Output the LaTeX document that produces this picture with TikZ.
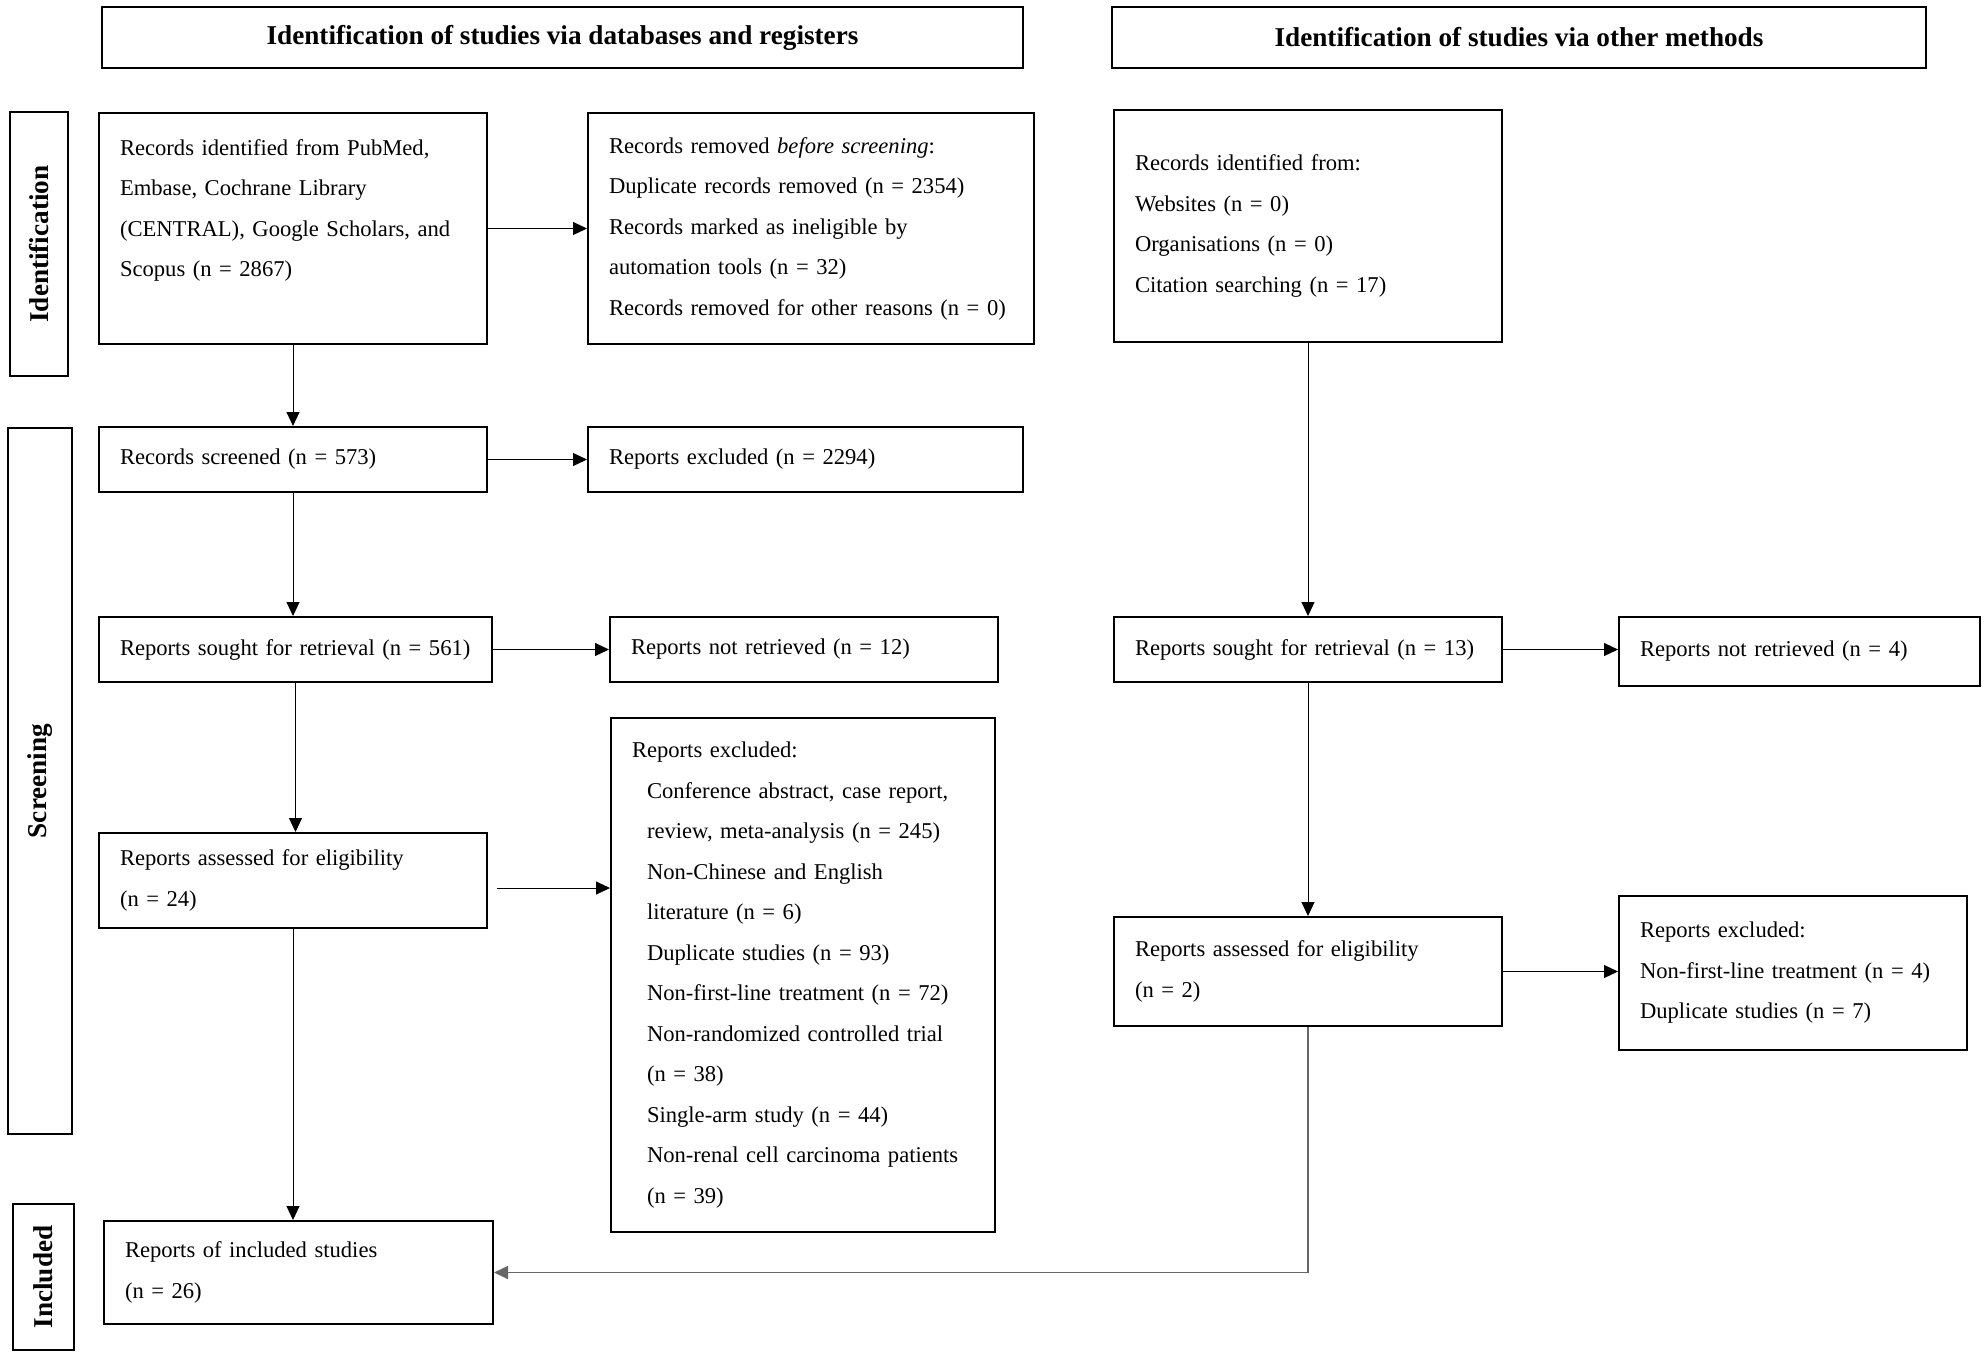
\documentclass[tikz,border=0pt]{standalone}
\usepackage{fontspec}
\setmainfont{Liberation Serif}
\usetikzlibrary{arrows.meta}
\newcommand{\bodyfs}{\fontsize{11.3pt}{20.25pt}\selectfont}
\newcommand{\headfs}{\fontsize{13.6pt}{16pt}\selectfont\bfseries}
\tikzset{
	box/.style={draw, line width=1pt, inner xsep=10.5pt, inner ysep=0pt, align=left, font=\bodyfs},
	headbox/.style={draw, line width=1pt, minimum height=30.5pt, font=\headfs},
	sidebox/.style={draw, line width=1.3pt, rotate=90, font=\headfs},
	arr/.style={line width=0.5pt, -{Triangle[length=7pt,width=6.5pt]}}
}
\begin{document}
\begin{tikzpicture}[x=0.5pt,y=-0.5pt]
	\useasboundingbox (0,0) rectangle (1987,1357);
	
	%headers
	\node[headbox, minimum width=460.5pt] (hdA) at (562.5,37.5) {Identification of studies via databases and registers};
	\node[headbox, minimum width=407pt] (hdB) at (1519,37.5) {Identification of studies via other methods};
	
	%side labels
	\node[sidebox, minimum width=132pt, minimum height=29pt] (sideId) at (39,244) {Identification};
	\node[sidebox, minimum width=353pt, minimum height=32pt] (sideScr) at (40,781) {Screening};
	\node[sidebox, minimum width=73pt, minimum height=30.5pt] (sideInc) at (43.5,1277) {Included};
	
	%databases column
	\node[box, text width=173pt, minimum height=115.5pt] (ident) at (293,228.5)
		{Records identified from PubMed,\\ Embase, Cochrane Library\\ (CENTRAL), Google Scholars, and\\ Scopus (n = 2867)\\ ~};
	\node[box, text width=202pt, minimum height=115.5pt] (removed) at (811,228.5)
		{Records removed \textit{before screening}:\\ Duplicate records removed (n = 2354)\\ Records marked as ineligible by\\ automation tools (n = 32)\\ Records removed for other reasons (n = 0)};
	\node[box, text width=173pt, minimum height=32.5pt] (screened) at (293,459.5) {Records screened (n = 573)};
	\node[box, text width=196.5pt, minimum height=32.5pt] (exclA) at (805.5,459.5) {Reports excluded (n = 2294)};
	\node[box, text width=175.5pt, minimum height=32.5pt] (sought) at (295.5,649.5) {Reports sought for retrieval (n = 561)};
	\node[box, text width=173pt, minimum height=32.5pt] (notretr) at (804,649.5) {Reports not retrieved (n = 12)};
	\node[box, text width=173pt, minimum height=47.5pt] (assessed) at (293,880.5)
		{Reports assessed for eligibility\\ (n = 24)};
	\node[box, text width=171pt, minimum height=257pt] (exclB) at (803,975)
		{Reports excluded:\\
		\hspace*{7.5pt}Conference abstract, case report,\\
		\hspace*{7.5pt}review, meta-analysis (n = 245)\\
		\hspace*{7.5pt}Non-Chinese and English\\
		\hspace*{7.5pt}literature (n = 6)\\
		\hspace*{7.5pt}Duplicate studies (n = 93)\\
		\hspace*{7.5pt}Non-first-line treatment (n = 72)\\
		\hspace*{7.5pt}Non-randomized controlled trial\\
		\hspace*{7.5pt}(n = 38)\\
		\hspace*{7.5pt}Single-arm study (n = 44)\\
		\hspace*{7.5pt}Non-renal cell carcinoma patients\\
		\hspace*{7.5pt}(n = 39)};
	\node[box, text width=173.5pt, minimum height=51.5pt] (included) at (298.5,1272.5)
		{Reports of included studies\\ (n = 26)};
	
	%other methods column
	\node[box, text width=173pt, minimum height=116pt] (other) at (1308,226)
		{Records identified from:\\ Websites (n = 0)\\ Organisations (n = 0)\\ Citation searching (n = 17)};
	\node[box, text width=173pt, minimum height=32.5pt] (soughtB) at (1308,649.5) {Reports sought for retrieval (n = 13)};
	\node[box, text width=159.5pt, minimum height=34.5pt] (notretrB) at (1799.5,651.5) {Reports not retrieved (n = 4)};
	\node[box, text width=173pt, minimum height=54.5pt] (assessedB) at (1308,971.5)
		{Reports assessed for eligibility\\ (n = 2)};
	\node[box, text width=153pt, minimum height=77pt] (exclC) at (1793,973)
		{Reports excluded:\\ Non-first-line treatment (n = 4)\\ Duplicate studies (n = 7)};
	
	%arrows
	\draw[arr] (ident) -- (removed);
	\draw[arr] (ident) -- (screened);
	\draw[arr] (screened) -- (exclA);
	\draw[arr] (screened.south) -- (screened.south |- sought.north);
	\draw[arr] (sought) -- (notretr);
	\draw[arr] (sought.south) -- (sought.south |- assessed.north);
	\draw[arr] ([xshift=4.5pt,yshift=-3.75pt]assessed.east) -- ([yshift=-3.75pt]assessed.east -| exclB.west);
	\draw[arr] (assessed.south) -- (assessed.south |- included.north);
	\draw[arr] (other) -- (soughtB);
	\draw[arr] (soughtB.east) -- (soughtB.east -| notretrB.west);
	\draw[arr] (soughtB) -- (assessedB);
	\draw[arr] (assessedB.east) -- (assessedB.east -| exclC.west);
	\draw[arr, draw=black!60, line width=0.8pt] (assessedB.south) |- (included.east);
\end{tikzpicture}
\end{document}
